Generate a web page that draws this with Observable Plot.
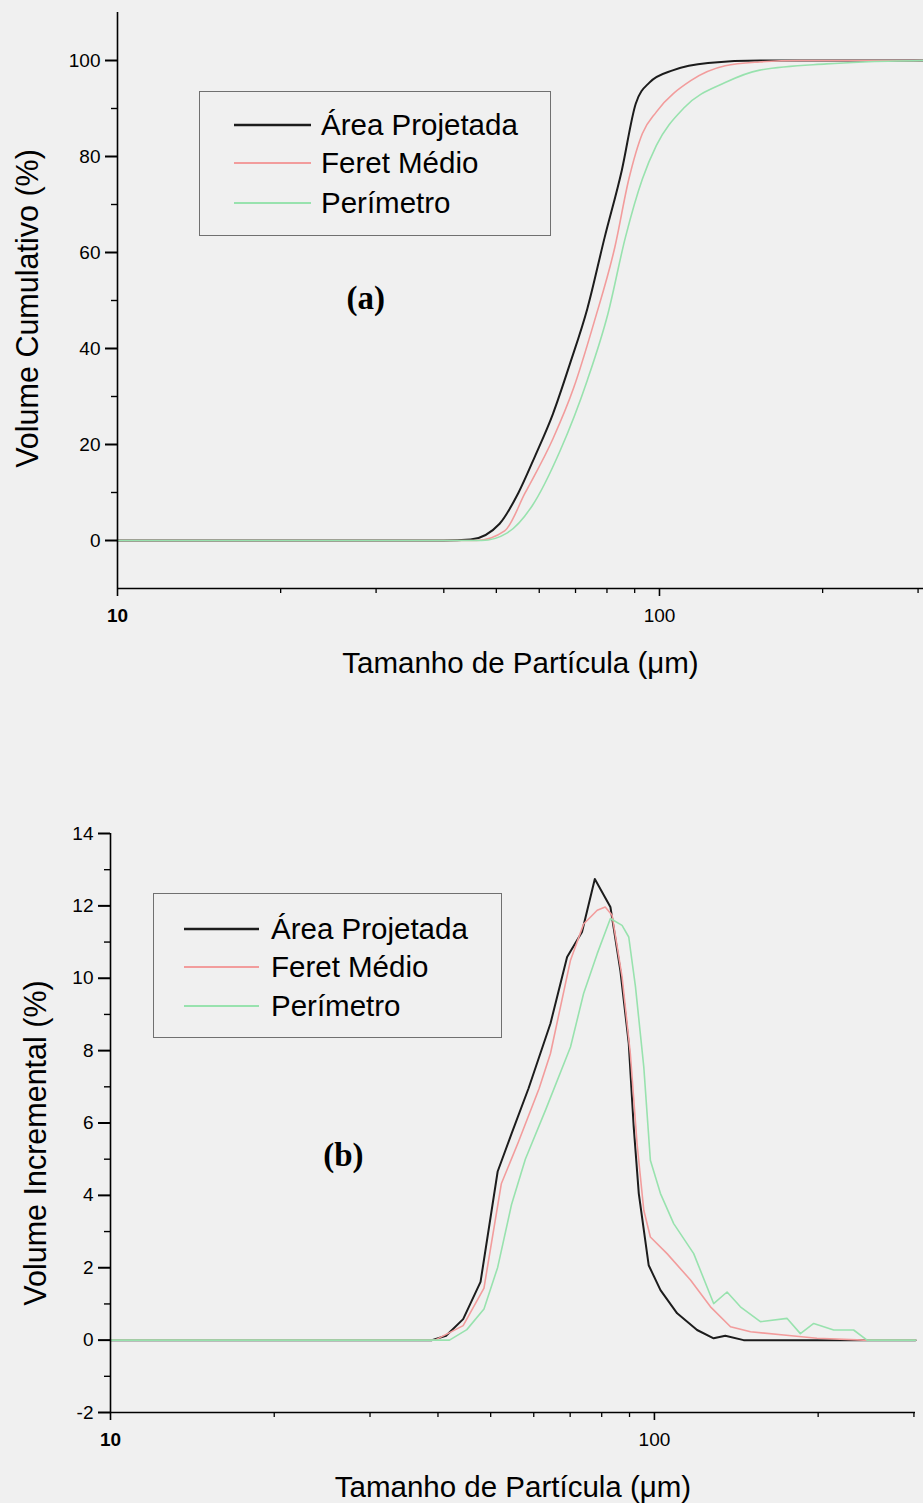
<!DOCTYPE html>
<html>
<head>
<meta charset="utf-8">
<script src="https://cdn.jsdelivr.net/npm/d3@7"></script>
<script src="https://cdn.jsdelivr.net/npm/@observablehq/plot@0.6"></script>
<style>
  body { margin: 0; background: #f0f0f0; overflow: hidden; }
  #fig { position: relative; width: 923px; height: 1503px; font-family: "Liberation Sans", Arial, sans-serif; }
  .panel { position: absolute; left: 0; }
  .legend { position: absolute; border: 1.5px solid #707070; box-sizing: border-box; }
  .legend .row { position: absolute; left: 0; height: 0; }
  .legend svg { position: absolute; overflow: visible; }
  .legend span { position: absolute; white-space: nowrap; transform: translateY(-50%); font-size: 29.5px; color: #000; }
</style>
</head>
<body>
<div id="fig"></div>
<script>
// Series names and colours
const seriesNames = ["Área Projetada", "Feret Médio", "Perímetro"];
const seriesColors = ["#1c1c1c", "#f29c9c", "#98e2ae"];
const seriesWidths = [2, 1.6, 1.6];

// (a) cumulative volume distribution — particle size (µm) and volume (%)
const cumAreaSize  = [10, 40, 44.8, 50.7, 54.9, 59.0, 63.6, 68.4, 73.6, 79.2, 85.2, 90.4, 95.8, 106.1, 122.9, 153.6, 230, 307];
const cumAreaValue = [0, 0, 0.2, 3.5, 9.9, 17.7, 26.4, 36.9, 48.3, 63.1, 77.1, 91.0, 95.4, 98.0, 99.5, 100, 100, 100];
const cumFeretSize  = [10, 46, 51.8, 56.5, 63.6, 69.4, 75.8, 82.8, 87.8, 93.0, 98.7, 114.2, 132.2, 153.1, 182, 307];
const cumFeretValue = [0, 0, 2.0, 9.9, 21.2, 31.7, 45.6, 61.3, 75.3, 84.8, 89.3, 95.8, 98.9, 99.7, 100, 100];
const cumPerimSize  = [10, 47, 52.4, 58.2, 65.5, 73.6, 80.4, 86.5, 93.0, 98.7, 110.9, 132.2, 153.1, 203.3, 237.7, 307];
const cumPerimValue = [0, 0, 1.6, 7.2, 18.6, 33.4, 47.4, 63.1, 75.3, 82.3, 90.1, 95.4, 98.0, 99.3, 99.7, 100];

// (b) incremental volume distribution
const incAreaSize  = [10, 39.0, 41.4, 44.5, 47.9, 51.5, 54.6, 58.7, 64.4, 69.1, 73.6, 77.7, 83.0, 86.6, 89.7, 91.6, 93.6, 97.6, 102.6, 110.1, 119.8, 128.5, 135, 145.9, 302];
const incAreaValue = [0, 0, 0.12, 0.58, 1.61, 4.66, 5.7, 6.96, 8.75, 10.59, 11.28, 12.74, 11.97, 10.2, 8.2, 5.9, 4.05, 2.07, 1.38, 0.74, 0.28, 0.05, 0.12, 0, 0];
const incFeretSize  = [10, 39.5, 44.5, 48.6, 52.3, 56.2, 61.4, 64.4, 70.1, 74.1, 78.5, 81.2, 83.6, 87.2, 90.3, 92.9, 95.6, 98.3, 105.5, 116.5, 126.8, 138, 150.2, 172.9, 199, 242.5, 302];
const incFeretValue = [0, 0, 0.4, 1.44, 4.32, 5.47, 6.96, 7.92, 10.5, 11.5, 11.88, 11.97, 11.74, 10.04, 7.92, 5.44, 3.59, 2.85, 2.39, 1.66, 0.92, 0.37, 0.23, 0.14, 0.05, 0, 0];
const incPerimSize  = [10, 42, 45.2, 48.6, 51.5, 54.6, 57.9, 63.2, 70.1, 74.1, 78.5, 83.0, 87.2, 89.7, 92.3, 95.6, 98.3, 102.6, 108.5, 118.1, 128.5, 136, 143.9, 156.6, 175.4, 185.5, 196.3, 213.6, 232.4, 246, 302];
const incPerimValue = [0, 0, 0.29, 0.86, 2.01, 3.74, 5.0, 6.39, 8.1, 9.58, 10.68, 11.65, 11.46, 11.14, 9.76, 7.55, 4.97, 4.05, 3.22, 2.39, 1.01, 1.33, 0.92, 0.51, 0.6, 0.18, 0.46, 0.28, 0.28, 0, 0];

// Axis ticks
const xMajorTicks = [10, 100];
const xMinorTicks = [20, 30, 40, 50, 60, 70, 80, 90, 200, 300];
const yMajorA = [0, 20, 40, 60, 80, 100];
const yMinorA = [10, 30, 50, 70, 90];
const yMajorB = [-2, 0, 2, 4, 6, 8, 10, 12, 14];
const yMinorB = [-1, 1, 3, 5, 7, 9, 11, 13];

// Titles and panel tags
const xTitle = "Tamanho de Partícula (μm)";
const yTitleA = "Volume Cumulativo (%)";
const yTitleB = "Volume Incremental (%)";
const tagA = {label: "(a)", size: 28.7, value: 50.4};
const tagB = {label: "(b)", size: 26.8, value: 5.1};

const sans = '"Liberation Sans", Arial, sans-serif';
const serif = '"Liberation Serif", "Times New Roman", serif';

const toRows = (sizes, values) => sizes.map((s, i) => ({size: s, value: values[i]}));

function seriesMarks(pairs, curve) {
  return pairs.map(([sizes, values], i) =>
    Plot.line(toRows(sizes, values), {
      x: "size", y: "value",
      stroke: seriesColors[i], strokeWidth: seriesWidths[i],
      curve
    })
  );
}

function panel({width, height, margins, xDomain, yDomain, yMajor, yMinor, yFloor, yTitle, yTitleDx, yTitleDy, tag, pairs, curve}) {
  const xMin = xDomain[0];
  return Plot.plot({
    width, height,
    marginTop: margins[0], marginRight: margins[1], marginBottom: margins[2], marginLeft: margins[3],
    style: {background: "transparent", color: "#000", fontFamily: sans, overflow: "visible"},
    x: {type: "log", domain: xDomain, label: null},
    y: {domain: yDomain, label: null},
    marks: [
      ...seriesMarks(pairs, curve),
      // axis lines
      Plot.ruleY([yFloor], {stroke: "#000", strokeWidth: 1.6}),
      Plot.ruleX([xMin], {stroke: "#000", strokeWidth: 1.6}),
      // tick marks
      Plot.axisY({ticks: yMajor, tickSize: 12, strokeWidth: 2, label: null, tickFormat: () => ""}),
      Plot.axisY({ticks: yMinor, tickSize: 6, strokeWidth: 1.4, label: null, tickFormat: () => ""}),
      Plot.axisX({ticks: xMajorTicks, tickSize: 8, strokeWidth: 1.6, label: null, tickFormat: () => ""}),
      Plot.axisX({ticks: xMinorTicks, tickSize: 5, strokeWidth: 1.3, label: null, tickFormat: () => ""}),
      // tick labels
      Plot.text(yMajor, {x: () => xMin, y: d => d, text: d => String(d), textAnchor: "end", dx: -17, fontSize: 19}),
      Plot.text([xMajorTicks[0]], {x: d => d, y: () => yFloor, text: d => String(d), dy: 27, fontSize: 19, fontWeight: "bold"}),
      Plot.text([xMajorTicks[1]], {x: d => d, y: () => yFloor, text: d => String(d), dy: 27, fontSize: 19}),
      // axis titles
      Plot.text([xTitle], {frameAnchor: "bottom", lineAnchor: "middle", dy: 75, fontSize: 29.5, text: d => d}),
      Plot.text([yTitle], {frameAnchor: "left", textAnchor: "middle", lineAnchor: "middle", dx: yTitleDx, dy: yTitleDy, rotate: -90, fontSize: 30.5, text: d => d}),
      // panel tag
      Plot.text([tag], {x: "size", y: "value", text: "label", fontSize: 33, fontWeight: "bold", fontFamily: serif})
    ]
  });
}

function legend(box) {
  const el = document.createElement("div");
  el.className = "legend";
  Object.assign(el.style, {left: box.left + "px", top: box.top + "px", width: box.width + "px", height: box.height + "px"});
  seriesNames.forEach((name, i) => {
    const row = document.createElement("div");
    row.className = "row";
    row.style.top = box.rows[i] + "px";
    const svg = d3.create("svg").attr("width", box.lineEnd - box.lineStart).attr("height", 4)
      .style("left", box.lineStart + "px").style("top", "-2px");
    svg.append("line").attr("x1", 0).attr("x2", box.lineEnd - box.lineStart).attr("y1", 2).attr("y2", 2)
      .attr("stroke", seriesColors[i]).attr("stroke-width", seriesWidths[i] + 0.4);
    row.appendChild(svg.node());
    const span = document.createElement("span");
    span.textContent = name;
    span.style.left = box.textLeft + "px";
    row.appendChild(span);
    el.appendChild(row);
  });
  return el;
}

const fig = document.getElementById("fig");

const a = panel({
  width: 923, height: 700, margins: [12, 0, 112, 117],
  xDomain: [10, 307], yDomain: [-10, 110], yMajor: yMajorA, yMinor: yMinorA, yFloor: -10,
  yTitle: yTitleA, yTitleDx: -89, yTitleDy: 8, tag: tagA, curve: "monotone-x",
  pairs: [[cumAreaSize, cumAreaValue], [cumFeretSize, cumFeretValue], [cumPerimSize, cumPerimValue]]
});
a.classList.add("panel");
a.style.top = "0px";
fig.appendChild(a);

const b = panel({
  width: 923, height: 803, margins: [133, 8, 91, 110],
  xDomain: [10, 302], yDomain: [-2, 14], yMajor: yMajorB, yMinor: yMinorB, yFloor: -2,
  yTitle: yTitleB, yTitleDx: -74, yTitleDy: 20, tag: tagB, curve: "linear",
  pairs: [[incAreaSize, incAreaValue], [incFeretSize, incFeretValue], [incPerimSize, incPerimValue]]
});
b.classList.add("panel");
b.style.top = "700px";
fig.appendChild(b);

fig.appendChild(legend({left: 199, top: 91, width: 352, height: 145, rows: [33, 71, 111], lineStart: 34, lineEnd: 111, textLeft: 121}));
fig.appendChild(legend({left: 153, top: 893, width: 349, height: 145, rows: [35, 73, 112], lineStart: 30, lineEnd: 105, textLeft: 117}));
</script>
</body>
</html>
